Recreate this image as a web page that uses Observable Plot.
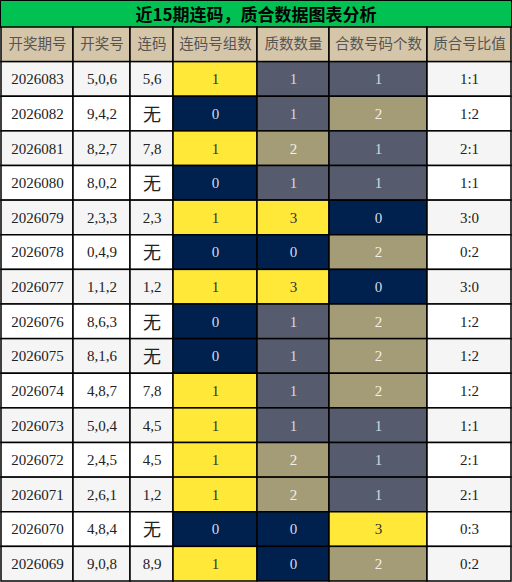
<!DOCTYPE html>
<html><head><meta charset="utf-8">
<script src="https://cdn.jsdelivr.net/npm/d3@7"></script>
<script src="https://cdn.jsdelivr.net/npm/@observablehq/plot@0.6"></script>
<style>
html,body{margin:0;padding:0;background:#fff;}
#title{position:absolute;left:0;top:0;width:512px;height:28px;box-sizing:border-box;background:#00C152;border:1.5px solid #000;border-bottom:none;
font-family:"Noto Sans CJK SC","Liberation Serif",sans-serif;font-weight:bold;font-size:17px;text-align:center;line-height:25px;color:#000;}
#chart{position:absolute;left:0;top:27px;width:512px;height:555px;}
#chart svg{display:block;}
</style></head><body>
<div id="title">近15期连码，质合数据图表分析</div>
<div id="chart"></div>
<script>
const headers = ["开奖期号","开奖号","连码","连码号组数","质数数量","合数号码个数","质合号比值"];
const periods = ["2026083","2026082","2026081","2026080","2026079","2026078","2026077","2026076","2026075","2026074","2026073","2026072","2026071","2026070","2026069"];
const draws = ["5,0,6","9,4,2","8,2,7","8,0,2","2,3,3","0,4,9","1,1,2","8,6,3","8,1,6","4,8,7","5,0,4","2,4,5","2,6,1","4,8,4","9,0,8"];
const lianma = ["5,6","无","7,8","无","2,3","无","1,2","无","无","7,8","4,5","4,5","1,2","无","8,9"];
const groupCount = [1,0,1,0,1,0,1,0,0,1,1,1,1,0,1];
const primeCount = [1,1,2,1,3,0,3,1,1,1,1,2,2,0,0];
const compositeCount = [1,2,1,1,0,2,0,2,2,2,1,1,1,3,2];
const ratio = ["1:1","1:2","2:1","1:1","3:0","0:2","3:0","1:2","1:2","1:2","1:1","2:1","2:1","0:3","0:2"];

// layout / style
const colWidths = [72,57,43,84,72,98,84];
const edges = [0]; colWidths.forEach(w => edges.push(edges[edges.length-1]+w));
const countFill = {0:"#00214E",1:"#565C6D",2:"#A49C76",3:"#FFE838"};
const countText = {0:"#d8dce6",1:"#d8dae0",2:"#f2f0e6",3:"#333333"};
const groupFill = {0:"#00214E",1:"#FFE838"};
const groupText = {0:"#d8dce6",1:"#333333"};

const rows = ["header", ...periods];
const cells = [];
headers.forEach((h,c)=>cells.push({row:"header",col:c,text:h,fill:"#D5C6A9",color:"#555555",kind:"header"}));
periods.forEach((p,i)=>{
  const base = i%2===0 ? "#F5F5F5" : "#FFFFFF";
  cells.push({row:p,col:0,text:p,fill:base,color:"#222",kind:"num"});
  cells.push({row:p,col:1,text:draws[i],fill:base,color:"#222",kind:"num"});
  cells.push({row:p,col:2,text:lianma[i],fill:base,color:"#222",kind:lianma[i]==="无"?"cjk":"num"});
  cells.push({row:p,col:3,text:String(groupCount[i]),fill:groupFill[groupCount[i]],color:groupText[groupCount[i]],kind:"num"});
  cells.push({row:p,col:4,text:String(primeCount[i]),fill:countFill[primeCount[i]],color:countText[primeCount[i]],kind:"num"});
  cells.push({row:p,col:5,text:String(compositeCount[i]),fill:countFill[compositeCount[i]],color:countText[compositeCount[i]],kind:"num"});
  cells.push({row:p,col:6,text:ratio[i],fill:base,color:"#222",kind:"num"});
});
const x1 = d => edges[d.col], x2 = d => edges[d.col+1], xc = d => (edges[d.col]+edges[d.col+1])/2;

const plot = Plot.plot({
  width:512, height:555,
  marginTop:0, marginLeft:1, marginRight:1, marginBottom:1,
  x:{type:"linear", domain:[0,edges[edges.length-1]], axis:null},
  y:{type:"band", domain:rows, axis:null, paddingInner:0, paddingOuter:0, round:false},
  style:{background:"transparent", overflow:"visible", display:"block"},
  marks:[
    Plot.barX(cells,{x1, x2, y:"row", fill:d=>d.fill, stroke:"#000", strokeWidth:1.5, inset:0}),
    Plot.text(cells.filter(d=>d.kind==="header"),{x:xc, y:"row", text:"text", fill:d=>d.color, fontSize:14.5, fontFamily:"Noto Sans CJK SC"}),
    Plot.text(cells.filter(d=>d.kind==="num"),{x:xc, y:"row", text:"text", fill:d=>d.color, fontSize:15, fontFamily:"Liberation Serif"}),
    Plot.text(cells.filter(d=>d.kind==="cjk"),{x:xc, y:"row", dy:1, text:"text", fill:d=>d.color, fontSize:18, fontFamily:"Noto Sans CJK SC"})
  ]
});
document.getElementById("chart").appendChild(plot);
</script>
</body></html>
